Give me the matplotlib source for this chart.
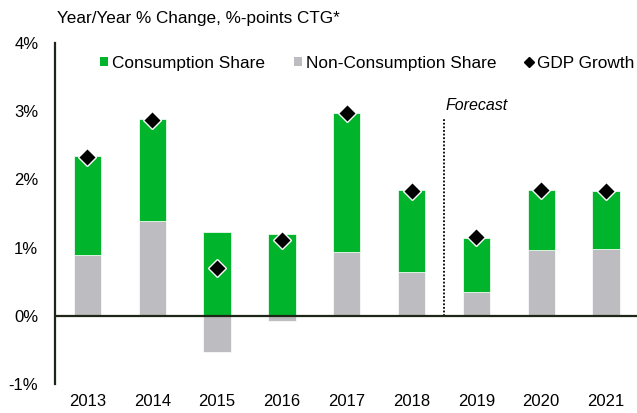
import numpy as np
import matplotlib
matplotlib.use("Agg")
import matplotlib.pyplot as plt
from matplotlib.lines import Line2D
from matplotlib.patches import Patch

plt.rcParams['font.family'] = ['Liberation Sans', 'DejaVu Sans']

years = ["2013", "2014", "2015", "2016", "2017", "2018", "2019", "2020", "2021"]
consumption = [1.45, 1.49, 1.23, 1.20, 2.04, 1.19, 0.79, 0.88, 0.85]
non_consumption = [0.89, 1.39, -0.53, -0.08, 0.94, 0.65, 0.35, 0.97, 0.98]
gdp_growth = [2.33, 2.87, 0.70, 1.11, 2.97, 1.83, 1.15, 1.85, 1.83]
y_ticks = [-1, 0, 1, 2, 3, 4]

GREEN = "#00B52B"
GRAY = "#BDBCC1"
DARK = "#1E2618"

fig = plt.figure(figsize=(6.37, 4.13), dpi=100)
ax = fig.add_axes([0.0863, 0.070, 0.914, 0.826])

x = np.arange(len(years))
width = 0.42
cons = np.array(consumption)
noncons = np.array(non_consumption)
# consumption stacks on top of positive non-consumption, from zero otherwise
bottoms = np.where(noncons > 0, noncons, 0)

ax.bar(x, noncons, width, color=GRAY, edgecolor="white", linewidth=0.5, zorder=2)
ax.bar(x, cons, width, bottom=bottoms, color=GREEN, edgecolor="white", linewidth=0.5, zorder=2)
ax.plot(x, gdp_growth, linestyle="none", marker="D", markersize=9,
        color="black", markeredgecolor="white", markeredgewidth=1, zorder=4)

ax.axhline(0, color=DARK, linewidth=1.6, zorder=3)
ax.plot([5.5, 5.5], [0, 2.88], color="black", linestyle=(0, (1, 1)), linewidth=1.3, zorder=1)
ax.text(5.53, 3.08, "Forecast", fontsize=11.5, style="italic", ha="left", va="center")

ax.set_xlim(-0.5, 8.48)
ax.set_ylim(-1, 4)
ax.set_xticks(x)
ax.set_xticklabels(years, fontsize=12)
ax.set_yticks(y_ticks)
ax.set_yticklabels([f"{t}%" for t in y_ticks], fontsize=12)
ax.tick_params(axis="x", length=0, pad=7)
ax.tick_params(axis="y", length=0, pad=12)
for s in ["top", "right", "bottom"]:
    ax.spines[s].set_visible(False)
ax.spines["left"].set_color(DARK)
ax.spines["left"].set_linewidth(1.6)

handles = [
    Patch(facecolor=GREEN, label="Consumption Share"),
    Patch(facecolor=GRAY, label="Non-Consumption Share"),
    Line2D([], [], linestyle="none", marker="D", markersize=5, color="black",
           label="GDP Growth"),
]
ax.legend(handles=handles, ncol=3, loc="center left", bbox_to_anchor=(0.077, 0.941),
          frameon=False, fontsize=12.4, handlelength=0.45, handleheight=0.45,
          handletextpad=0.25, columnspacing=1.68, borderpad=0, borderaxespad=0)

fig.text(0.09, 0.955, "Year/Year % Change, %-points CTG*", fontsize=12.3,
         ha="left", va="center")

fig.savefig("out.png", dpi=100)
